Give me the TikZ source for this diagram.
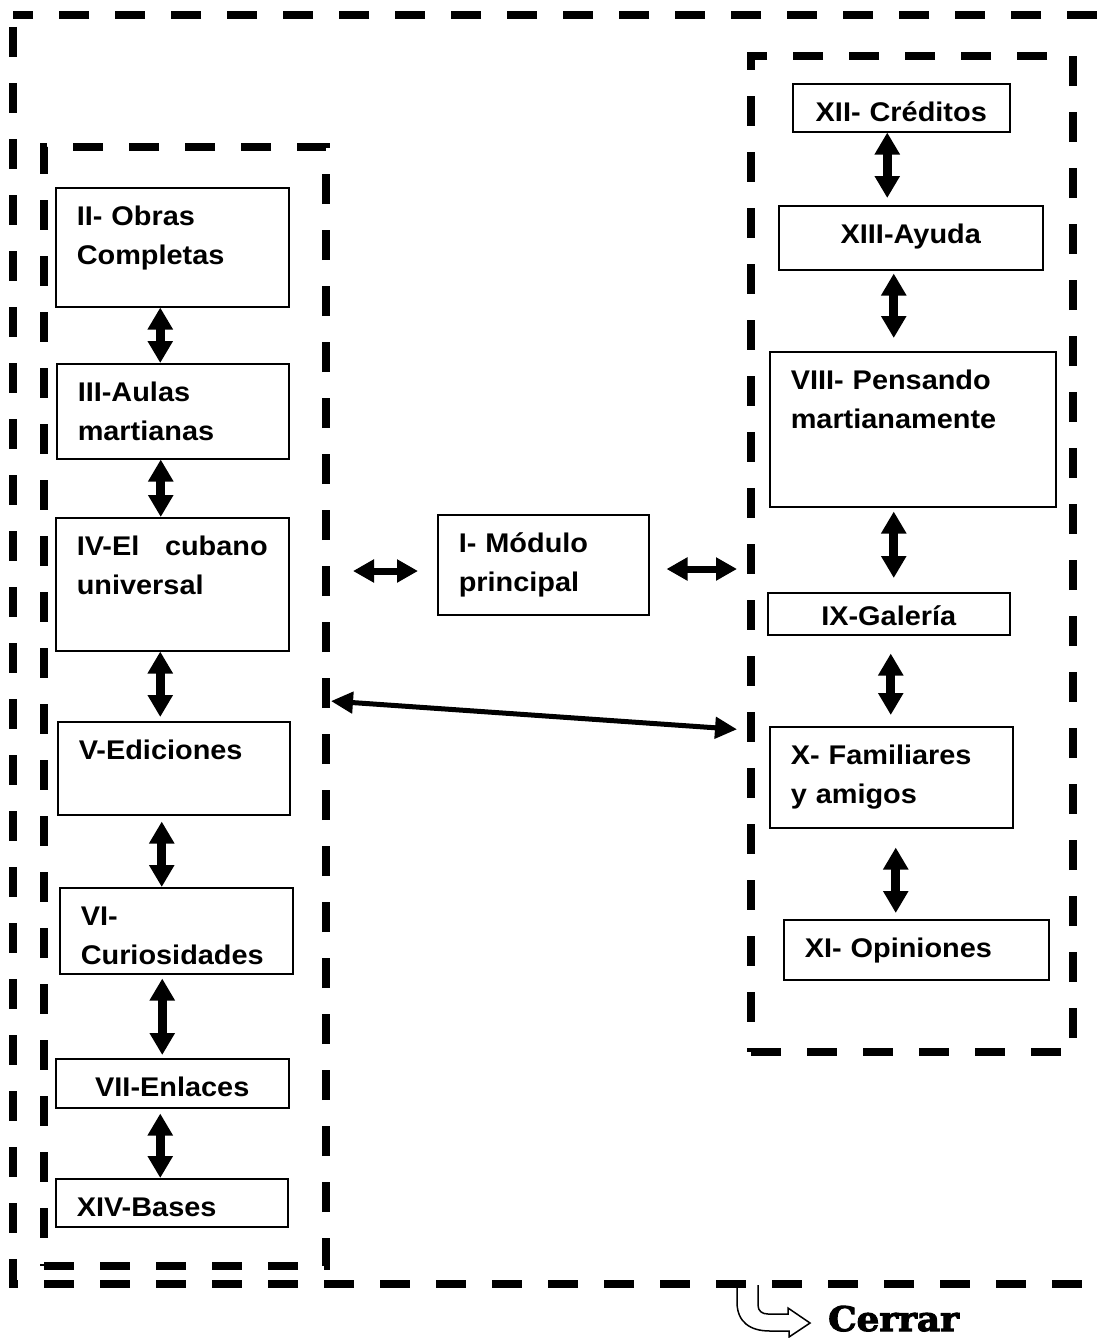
\documentclass[tikz,border=0pt]{standalone}
\usepackage{fontspec}
\setmainfont{Liberation Sans}[FakeStretch=1.07]
\newfontfamily\cerrarfont{DejaVu Serif}[BoldFeatures={FakeBold=3},FakeStretch=1.05]
\usetikzlibrary{arrows.meta}

\begin{document}
\begin{tikzpicture}[x=1pt,y=-1pt,
  modbox/.style={draw,line width=1.5pt,anchor=north west,inner xsep=21pt,inner ysep=0pt,
    text height=38pt,align=left,font=\fontsize{27}{39}\selectfont\bfseries},
  groupbox/.style={draw,line width=8pt,dash pattern=on 30pt off 26pt,anchor=north west,inner sep=0pt},
  vlink/.style={{Triangle[width=24pt,length=22pt]}-{Triangle[width=24pt,length=22pt]},line width=9pt},
  hlink/.style={{Triangle[width=22pt,length=21pt]}-{Triangle[width=22pt,length=21pt]},line width=7pt},
  longlink/.style={{Triangle[width=21pt,length=22pt]}-{Triangle[width=21pt,length=22pt]},line width=5pt}]
\useasboundingbox (0,0) rectangle (1103,1338);
\clip (0,0) rectangle (1103,1338);
% cerrar
\draw [line width=1.5pt,fill=white] (737,1285) -- (737,1302) .. controls (737,1322) and (750,1331) .. (770,1331) -- (789,1331) -- (789,1337) -- (810,1323) -- (788,1308) -- (788,1314) -- (768,1314) .. controls (762,1314) and (758,1311) .. (758,1305) -- (758,1285);
\node [anchor=base west,inner sep=0pt,font=\cerrarfont\bfseries\fontsize{34}{40}\selectfont] (cerrar) at (828,1331) {Cerrar};
\draw [line width=8pt,dash pattern=on 30pt off 26pt,dash phase=44pt] (13,15) rectangle (1140,1284);
% groups
\node [groupbox,minimum width=282pt,minimum height=1119pt] (leftgroup) at (40,143) {};
\node [groupbox,minimum width=322pt,minimum height=996pt] (rightgroup) at (747,52) {};
% left column
\node [modbox,text width=191pt,text depth=81pt] (ii) at (55,187) {II- Obras\\Completas};
\node [modbox,text width=190pt,text depth=57pt] (iii) at (56,363) {III-Aulas\\martianas};
\node [modbox,text width=191pt,text depth=95pt] (iv) at (55,517) {\hbox to 191pt{IV-El\hfill cubano}\\universal};
\node [modbox,text width=190pt,text depth=55pt] (v) at (57,721) {V-Ediciones};
\node [modbox,text width=191pt,text depth=48pt] (vi) at (59,887) {VI-\\Curiosidades};
\node [modbox,text width=191pt,text depth=11pt,align=center] (vii) at (55,1058) {VII-Enlaces};
\node [modbox,text width=190pt,text depth=10pt] (xiv) at (55,1178) {XIV-Bases};
% middle
\node [modbox,text width=169pt,text depth=62pt] (mod) at (437,514) {I- Módulo\\principal};
% right column
\node [modbox,text width=175pt,text depth=10pt,align=center] (xii) at (792,83) {XII- Créditos};
\node [modbox,text width=222pt,text depth=26pt,align=center] (xiii) at (778,205) {XIII-Ayuda};
\node [modbox,text width=244pt,text depth=117pt] (viii) at (769,351) {VIII- Pensando\\martianamente};
\node [modbox,text width=200pt,text height=33pt,text depth=9pt,align=center] (ix) at (767,592) {IX-Galería};
\node [modbox,text width=201pt,text depth=63pt] (x) at (769,726) {X- Familiares\\y amigos};
\node [modbox,text width=223pt,text depth=22pt] (xi) at (783,919) {XI- Opiniones};
% links
\draw [vlink] ([xshift=-12pt]ii.south) -- ([xshift=-12pt]ii.south |- iii.north);
\draw [vlink] ([xshift=-12pt]iii.south) -- ([xshift=-12pt]iii.south |- iv.north);
\draw [vlink,shorten >=4pt] ([xshift=-12pt]iv.south) -- ([xshift=-12pt]iv.south |- v.north);
\draw [vlink,shorten <=6pt] ([xshift=-12pt]v.south) -- ([xshift=-12pt]v.south |- vi.north);
\draw [vlink,shorten <=4pt,shorten >=3pt] ([xshift=-14pt]vi.south) -- ([xshift=-14pt]vi.south |- vii.north);
\draw [vlink,shorten <=5pt] ([xshift=-12pt]vii.south) -- ([xshift=-12pt]vii.south |- xiv.north);
\draw [vlink,shorten >=7pt] ([xshift=-14pt]xii.south) -- ([xshift=-14pt]xii.south |- xiii.north);
\draw [vlink,shorten <=3pt,shorten >=13pt] ([xshift=-17pt]xiii.south) -- ([xshift=-17pt]xiii.south |- viii.north);
\draw [vlink,shorten <=4pt,shorten >=14pt] ([xshift=-19pt]viii.south) -- ([xshift=-19pt]viii.south |- ix.north);
\draw [vlink,shorten <=18pt,shorten >=11pt] ([xshift=2pt]ix.south) -- ([xshift=2pt]ix.south |- x.north);
\draw [vlink,shorten <=19pt,shorten >=6pt] ([xshift=4.5pt]x.south) -- ([xshift=4.5pt]x.south |- xi.north);
\draw [hlink,shorten <=23pt,shorten >=19pt] (leftgroup.east |- 0,571) -- (mod.west |- 0,571);
\draw [hlink,shorten <=17pt,shorten >=10pt] (mod.east |- 0,569) -- (rightgroup.west |- 0,569);
\draw [longlink,shorten <=1pt,shorten >=10pt] (leftgroup.east |- 0,701) -- (rightgroup.west |- 0,730);
\end{tikzpicture}
\end{document}
